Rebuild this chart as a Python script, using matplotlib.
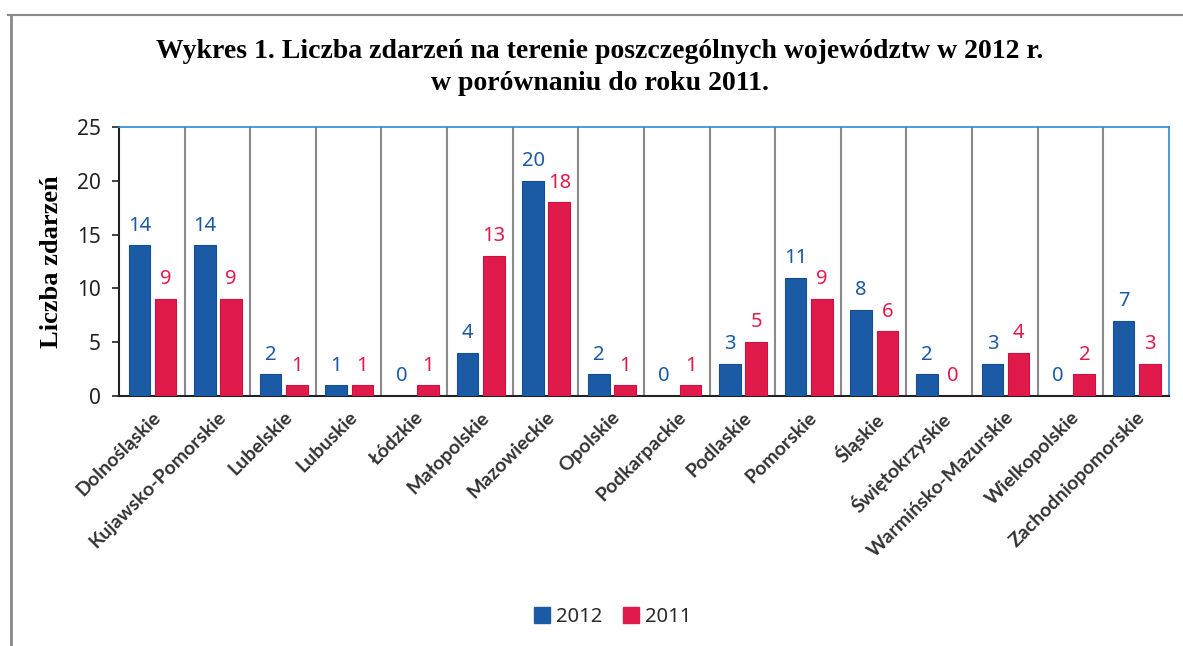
import matplotlib
matplotlib.use("Agg")
import matplotlib.pyplot as plt
from matplotlib.lines import Line2D
from matplotlib.patches import Patch
import numpy as np

categories = ["Dolnośląskie", "Kujawsko-Pomorskie", "Lubelskie", "Lubuskie", "Łódzkie",
              "Małopolskie", "Mazowieckie", "Opolskie", "Podkarpackie", "Podlaskie",
              "Pomorskie", "Śląskie", "Świętokrzyskie", "Warmińsko-Mazurskie",
              "Wielkopolskie", "Zachodniopomorskie"]
values_2012 = [14, 14, 2, 1, 0, 4, 20, 2, 0, 3, 11, 8, 2, 3, 0, 7]
values_2011 = [9, 9, 1, 1, 1, 13, 18, 1, 1, 5, 9, 6, 0, 4, 2, 3]
series_names = ["2012", "2011"]
y_ticks = [0, 5, 10, 15, 20, 25]

BLUE = "#1b5aa5"
RED = "#e11a4c"
SANS = "Noto Sans"
LABEL_SANS = "Lato"
SERIF = "Liberation Serif"

fig = plt.figure(figsize=(11.83, 6.46), dpi=100)
ax = fig.add_axes([0.1006, 0.387, 0.8875, 0.4166])

x = np.arange(len(categories))
w = 0.33
ax.bar(x - 0.19, values_2012, width=w, color=BLUE, edgecolor="#164d8f", linewidth=0.8, zorder=3)
ax.bar(x + 0.21, values_2011, width=w, color=RED, edgecolor="#d0103f", linewidth=0.8, zorder=3)

for xi, v in zip(x, values_2012):
    ax.annotate(str(v), (xi - 0.19, v), xytext=(0, 7), textcoords="offset points",
                ha="center", va="bottom", color=BLUE, fontsize=14.5, family=SANS)
for xi, v in zip(x, values_2011):
    ax.annotate(str(v), (xi + 0.21, v), xytext=(0, 7), textcoords="offset points",
                ha="center", va="bottom", color=RED, fontsize=14.5, family=SANS)

for b in np.arange(0.5, len(categories) - 1, 1.0):
    ax.axvline(b, color="#8a8a8a", lw=1.5, zorder=1)

ax.set_xlim(-0.5, len(categories) - 0.5)
ax.set_ylim(0, 25)
ax.set_yticks(y_ticks)
ax.set_yticklabels([str(t) for t in y_ticks], fontsize=15, family=SANS, color="#222222")
ax.tick_params(axis="y", length=5, width=1.2, color="#222222", pad=8)
ax.set_xticks(x)
ax.set_xticklabels(categories, rotation=45, ha="right", va="top", rotation_mode="anchor",
                   fontsize=14, family=LABEL_SANS, color="#333333", fontweight="bold")
ax.tick_params(axis="x", length=0, pad=9)

ax.spines["left"].set_color("#222222")
ax.spines["bottom"].set_color("#222222")
ax.spines["left"].set_linewidth(1.5)
ax.spines["bottom"].set_linewidth(1.5)
ax.spines["top"].set_color("#2b8bd3")
ax.spines["right"].set_color("#2b8bd3")
ax.spines["top"].set_linewidth(1.2)
ax.spines["right"].set_linewidth(1.2)

ax.set_ylabel("Liczba zdarzeń", family=SERIF, fontweight="bold", fontsize=19, labelpad=10)

fig.text(0.507, 0.92, "Wykres 1. Liczba zdarzeń na terenie poszczególnych województw w 2012 r.",
         ha="center", va="center", family=SERIF, fontweight="bold", fontsize=20)
fig.text(0.507, 0.871, "w porównaniu do roku 2011.",
         ha="center", va="center", family=SERIF, fontweight="bold", fontsize=20)

handles = [Patch(facecolor=BLUE, edgecolor=BLUE), Patch(facecolor=RED, edgecolor=RED)]
leg = fig.legend(handles, series_names, loc="center", bbox_to_anchor=(0.518, 0.045),
                 ncol=2, frameon=False, prop={"family": SANS, "size": 14.5},
                 handlelength=0.8, handleheight=0.8, handletextpad=0.3, columnspacing=1.0)
for t in leg.get_texts():
    t.set_color("#2a2a2a")

# page frame lines
fig.add_artist(Line2D([8 / 1183, 1.0], [1 - 15 / 646, 1 - 15 / 646], color="#8a8a8a", lw=1.5,
                      transform=fig.transFigure))
fig.add_artist(Line2D([11 / 1183, 11 / 1183], [0, 1 - 15 / 646], color="#8a8a8a", lw=2,
                      transform=fig.transFigure))

fig.savefig("out.png", dpi=100)
